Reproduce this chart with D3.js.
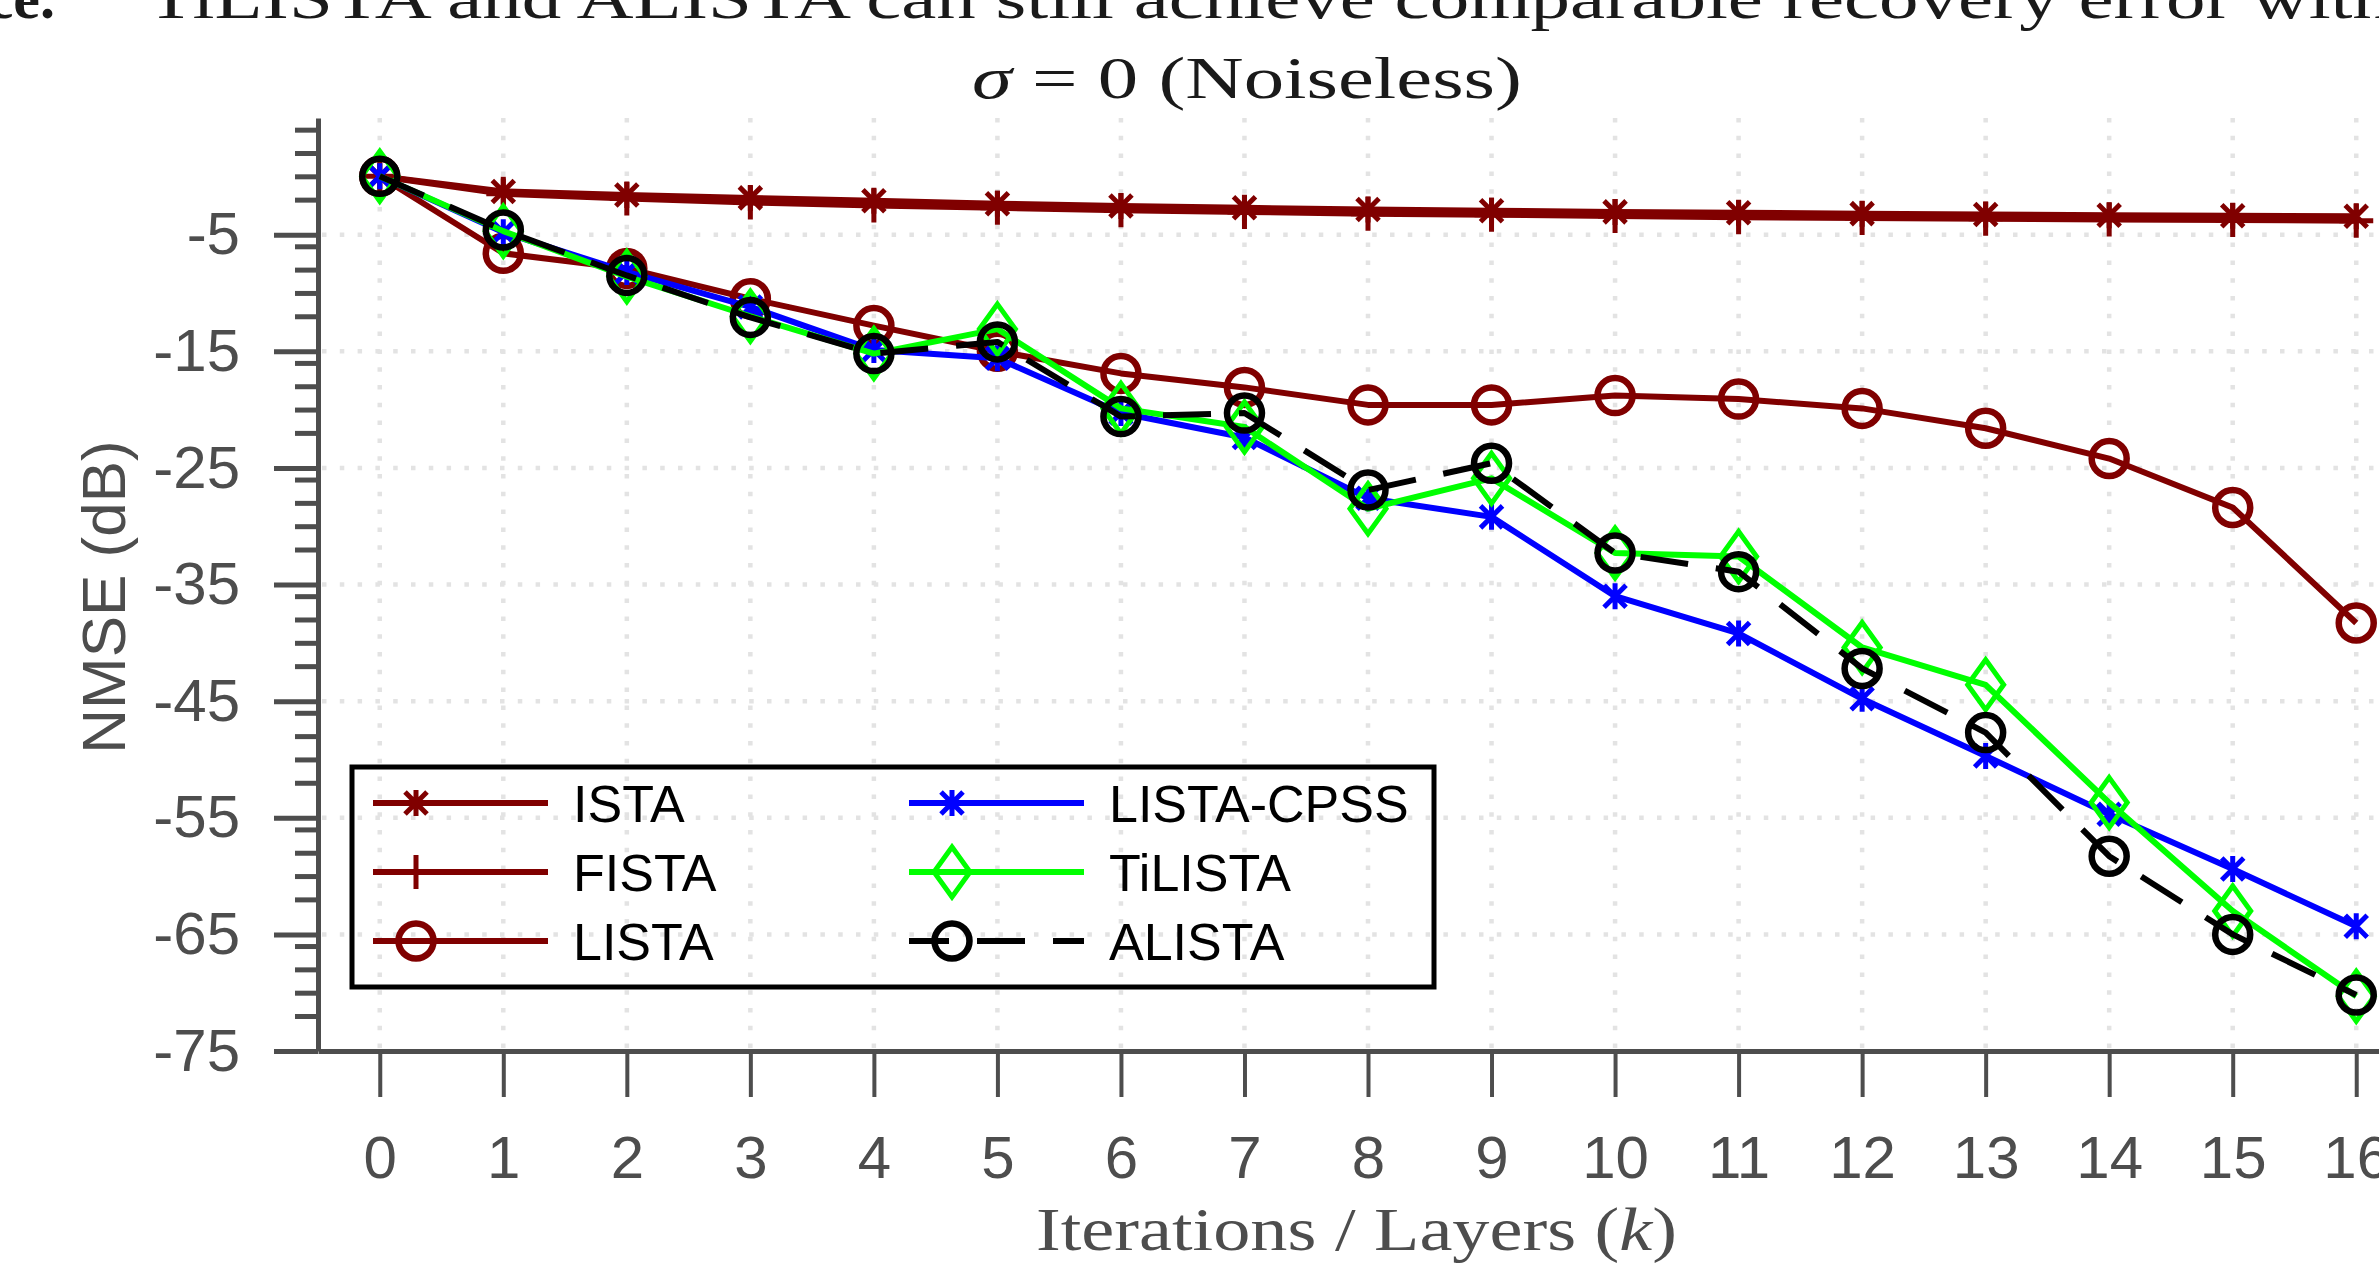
<html>
<head>
<style>
body {
    margin: 0;
    background: #fff;
}
svg {
    display: block;
}
.axis text {
    font-family: "Liberation Sans", Arial, sans-serif;
    font-size: 60px;
    fill: #4d4d4d;
}
.axis path, .axis line {
    stroke: #4d4d4d;
}
.grid line {
    stroke: #e3e3e3;
    stroke-width: 4.5;
    stroke-dasharray: 4.5 13.3;
}
.legend text {
    font-family: "Liberation Sans", Arial, sans-serif;
    font-size: 52px;
    fill: #000;
}
.serif {
    font-family: "Liberation Serif", "Times New Roman", serif;
}
</style>
</head>
<body>
<script src="https://d3js.org/d3.v7.min.js"></script>
<script>

const
    width = 2379,
    height = 1264;

// iterations / layers k
const layers = [0, 1, 2, 3, 4, 5, 6, 7, 8, 9, 10, 11, 12, 13, 14, 15, 16];

const yMajorTicks = [-5, -15, -25, -35, -45, -55, -65, -75];
const yMinorTicks = [4, 2, 0, -2, -6, -8, -10, -12, -16, -18, -20, -22, -26, -28, -30, -32,
    -36, -38, -40, -42, -46, -48, -50, -52, -56, -58, -60, -62, -66, -68, -70, -72];

// NMSE (dB)
const ista      = [0, -1.3, -1.6, -1.85, -2.1, -2.35, -2.55, -2.7, -2.85, -2.95, -3.05, -3.12, -3.2, -3.27, -3.33, -3.38, -3.43];
const fista     = [0, -1.5, -1.9, -2.25, -2.5, -2.7, -2.9, -3.05, -3.2, -3.3, -3.4, -3.5, -3.57, -3.63, -3.7, -3.75, -3.8];
const lista     = [0, -6.6, -7.9, -10.5, -12.8, -15.0, -16.9, -18.1, -19.6, -19.6, -18.8, -19.1, -19.9, -21.6, -24.2, -28.4, -38.3];
const listaCpss = [0, -4.8, -8.2, -11.2, -14.9, -15.6, -20.3, -22.4, -27.6, -29.2, -36.0, -39.2, -44.8, -49.7, -54.7, -59.4, -64.3];
const tilista   = [0, -4.7, -8.6, -12.0, -15.2, -13.1, -19.9, -21.5, -28.5, -25.9, -32.3, -32.6, -40.4, -43.6, -53.7, -63.0, -70.3];
const alista    = [0, -4.6, -8.5, -12.1, -15.2, -14.2, -20.6, -20.3, -26.9, -24.6, -32.3, -33.9, -42.2, -47.7, -58.3, -65.0, -70.2];

const names = ['ISTA', 'FISTA', 'LISTA', 'LISTA-CPSS', 'TiLISTA', 'ALISTA'];

const markers = {
    asterisk: 'M0,-13V13M-11,-11L11,11M-11,11L11,-11',
    plus: 'M0,-17V17M-17,0H17',
    circle: d3.symbol().type(d3.symbolCircle).size(Math.PI * 17.5 * 17.5)(),
    diamond: 'M0,-25L18,0L0,25L-18,0Z'
};

const series = [
    {name: names[0], values: ista,      color: '#800000', marker: 'asterisk', dash: null},
    {name: names[1], values: fista,     color: '#800000', marker: 'plus',     dash: null},
    {name: names[2], values: lista,     color: '#800000', marker: 'circle',   dash: null},
    {name: names[3], values: listaCpss, color: '#0000ff', marker: 'asterisk', dash: null},
    {name: names[4], values: tilista,   color: '#00ff00', marker: 'diamond',  dash: null},
    {name: names[5], values: alista,    color: '#000000', marker: 'circle',   dash: '48 28'}
];

const svg = d3.select('body')
    .append('svg')
    .attr('width', width)
    .attr('height', height);

const
    x = d3.scaleLinear().domain([-0.5, 16.5]).range([318, 2418]),
    y = d3.scaleLinear().domain([-75, 5]).range([1051, 118]);

// dotted grid
const grid = svg.append('g').classed('grid', true);
grid.selectAll('.gx')
    .data(layers)
  .enter().append('line')
    .attr('x1', d => x(d)).attr('x2', d => x(d))
    .attr('y1', y(5)).attr('y2', y(-75));
grid.selectAll('.gy')
    .data(yMajorTicks.slice(0, -1))
  .enter().append('line')
    .attr('x1', x(-0.5) + 4).attr('x2', x(16.5))
    .attr('y1', d => y(d)).attr('y2', d => y(d));

// axes
const xAxis = svg.append('g')
    .classed('axis', true)
    .attr('transform', 'translate(0,' + y(-75) + ')')
    .call(d3.axisBottom(x).tickValues(layers).tickSize(46).tickSizeOuter(0).tickPadding(38).tickFormat(d => String(d)));
xAxis.select('.domain').attr('stroke-width', 5);
xAxis.selectAll('.tick line').attr('stroke-width', 4);

const yMinor = svg.append('g')
    .classed('axis', true)
    .attr('transform', 'translate(' + x(-0.5) + ',0)')
    .call(d3.axisLeft(y).tickValues(yMinorTicks).tickSize(23).tickFormat(''));
yMinor.select('.domain').remove();
yMinor.selectAll('.tick line').attr('stroke-width', 5);

const yAxis = svg.append('g')
    .classed('axis', true)
    .attr('transform', 'translate(' + x(-0.5) + ',0)')
    .call(d3.axisLeft(y).tickValues(yMajorTicks).tickSize(44).tickSizeOuter(0).tickPadding(34).tickFormat(d => String(d)));
yAxis.select('.domain').attr('stroke-width', 5);
yAxis.selectAll('.tick line').attr('stroke-width', 5);

// series
const line = d3.line()
    .x((d, i) => x(layers[i]))
    .y(d => y(d));

series.forEach(s => {
    const g = svg.append('g');
    g.append('path')
        .attr('d', line(s.values))
        .attr('fill', 'none')
        .attr('stroke', s.color)
        .attr('stroke-width', 6)
        .attr('stroke-linejoin', 'round')
        .attr('stroke-dasharray', s.dash);
    g.selectAll('.m')
        .data(s.values)
      .enter().append('path')
        .attr('transform', (d, i) => 'translate(' + x(layers[i]) + ',' + y(d) + ')')
        .attr('d', markers[s.marker])
        .attr('fill', 'none')
        .attr('stroke', s.color)
        .attr('stroke-width', s.marker == 'circle' ? 6.5 : 5);
});

// legend
const legend = svg.append('g').classed('legend', true);
legend.append('rect')
    .attr('x', 352).attr('y', 767)
    .attr('width', 1082).attr('height', 220)
    .attr('fill', 'none')
    .attr('stroke', '#000')
    .attr('stroke-width', 5);

const entry = legend.selectAll('.entry')
    .data(series)
  .enter().append('g')
    .attr('transform', (d, i) => 'translate(' + (i < 3 ? 373 : 909) + ',' + (803 + 69 * (i % 3)) + ')');
entry.append('line')
    .attr('x1', 0).attr('x2', 175)
    .attr('stroke', d => d.color)
    .attr('stroke-width', 6)
    .attr('stroke-dasharray', d => d.dash)
    .attr('stroke-dashoffset', 8);
entry.append('path')
    .attr('transform', 'translate(43,0)')
    .attr('d', d => markers[d.marker])
    .attr('fill', 'none')
    .attr('stroke', d => d.color)
    .attr('stroke-width', d => d.marker == 'circle' ? 6.5 : 5);
entry.append('text')
    .attr('x', 200)
    .attr('dy', '0.36em')
    .text(d => d.name);

// labels
svg.append('text')
    .attr('transform', 'translate(103,597) rotate(-90)')
    .attr('text-anchor', 'middle')
    .attr('dy', '0.36em')
    .style('font-family', '"Liberation Sans", Arial, sans-serif')
    .style('font-size', '62px')
    .style('fill', '#4d4d4d')
    .text('NMSE (dB)');

const xl = svg.append('text')
    .classed('serif', true)
    .attr('x', 1036).attr('y', 1250)
    .attr('textLength', 641)
    .attr('lengthAdjust', 'spacingAndGlyphs')
    .style('font-size', '62px')
    .style('fill', '#4d4d4d');
xl.append('tspan').text('Iterations / Layers (');
xl.append('tspan').style('font-style', 'italic').text('k');
xl.append('tspan').text(')');

// title, cut off at the top of the picture
svg.append('text')
    .classed('serif', true)
    .attr('x', 55).attr('y', 18)
    .attr('text-anchor', 'end')
    .style('font-size', '60px')
    .style('font-weight', 'bold')
    .style('fill', '#1a1a1a')
    .text('ce.');
svg.append('text')
    .classed('serif', true)
    .attr('x', 147).attr('y', 18)
    .attr('textLength', 2245)
    .attr('lengthAdjust', 'spacingAndGlyphs')
    .style('font-size', '60px')
    .style('fill', '#1a1a1a')
    .text('TiLISTA and ALISTA can still achieve comparable recovery error with');

const t2 = svg.append('text')
    .classed('serif', true)
    .attr('x', 972).attr('y', 98)
    .attr('textLength', 550)
    .attr('lengthAdjust', 'spacingAndGlyphs')
    .style('font-size', '60px')
    .style('fill', '#1a1a1a');
t2.append('tspan').style('font-style', 'italic').text('σ');
t2.append('tspan').text(' = 0 (Noiseless)');

</script>
</body>
</html>
